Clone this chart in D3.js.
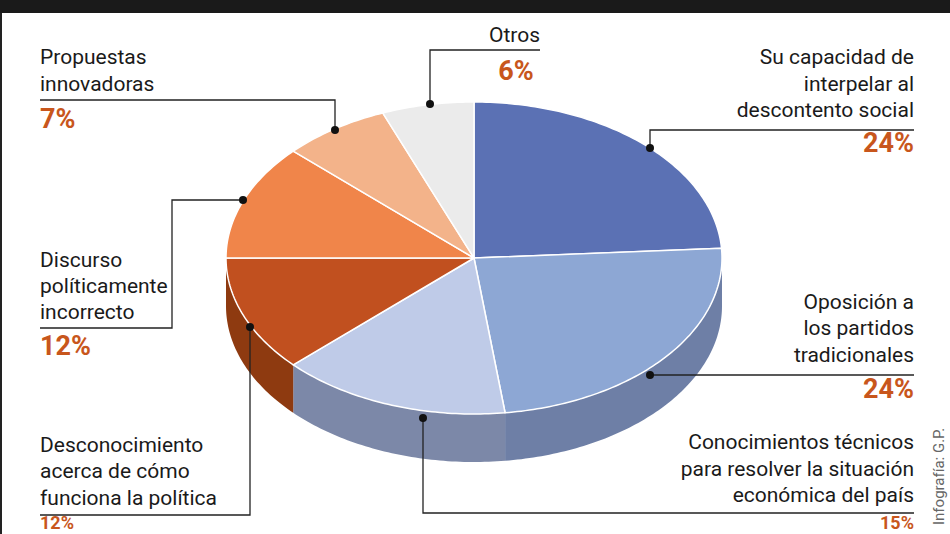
<!DOCTYPE html>
<html><head><meta charset="utf-8">
<script src="https://cdn.jsdelivr.net/npm/d3@7"></script>
<style>body{margin:0;background:#fff}svg{display:block}
text{font-family:"Liberation Sans Narrow","Roboto","DejaVu Sans Condensed",sans-serif}</style>
</head><body><svg id="c" width="950" height="534"></svg>
<script>
const categories=["Su capacidad de interpelar al descontento social","Oposición a los partidos tradicionales","Conocimientos técnicos para resolver la situación económica del país","Desconocimiento acerca de cómo funciona la política","Discurso políticamente incorrecto","Propuestas innovadoras","Otros"];
const values=[24,24,15,12,12,7,6];
const topColors=["#5B71B4","#8DA7D4","#BFCBE8","#C1501F","#F0854A","#F3B38A","#EBEBEB"];
const sideColors=["#56658E","#6E7FA6","#7C88A8","#8E3A10","#B05A2A","#B58060","#AAAAAA"];
const labelLines=[["Su capacidad de","interpelar al","descontento social"],["Oposición a","los partidos","tradicionales"],["Conocimientos técnicos","para resolver la situación","económica del país"],["Desconocimiento","acerca de cómo","funciona la política"],["Discurso","políticamente","incorrecto"],["Propuestas","innovadoras"],["Otros"]];

const svg=d3.select("#c");
const cx=474,cy=258,rx=248,ry=156,depth=48;
svg.append("rect").attr("width",950).attr("height",534).attr("fill","#fff");
svg.append("rect").attr("x",0).attr("y",0).attr("width",950).attr("height",13).attr("fill","#1a1a1a");
svg.append("line").attr("x1",1).attr("x2",1).attr("y1",13).attr("y2",534).attr("stroke","#222").attr("stroke-width",2);

const pie=d3.pie().sort(null).value(d=>d)(values);
const pt=(t,dy=0)=>[cx+rx*Math.sin(t),cy-ry*Math.cos(t)+dy];
function arcPts(a0,a1,dy=0){const n=Math.max(4,Math.ceil((a1-a0)*60));return d3.range(n+1).map(i=>pt(a0+(a1-a0)*i/n,dy));}
const line=d3.line();
pie.forEach((p,i)=>{
  const a0=Math.max(p.startAngle,Math.PI/2),a1=Math.min(p.endAngle,3*Math.PI/2);
  if(a1<=a0)return;
  const top=arcPts(a0,a1),bot=arcPts(a0,a1,depth).reverse();
  svg.append("path").attr("d",line(top.concat(bot))+"Z").attr("fill",sideColors[i]);
});
pie.forEach((p,i)=>{
  const pts=[[cx,cy]].concat(arcPts(p.startAngle,p.endAngle));
  svg.append("path").attr("d",line(pts)+"Z").attr("fill",topColors[i]).attr("stroke","#fff").attr("stroke-width",1.5).attr("stroke-linejoin","round");
});

const cfg=[
 {x:914,anchor:"end",y:[57,84,110],py:152,lead:[[650,148],[650,130],[914,130]]},
 {x:914,anchor:"end",y:[302,328,355],py:398,lead:[[650,375],[914,375]]},
 {x:914,anchor:"end",y:[442,469,495],py:529,lead:[[423,418],[423,513],[914,513]]},
 {x:40,anchor:"start",y:[445,471,498],py:529,lead:[[250,327],[250,515],[40,515]]},
 {x:40,anchor:"start",y:[260,286,312],py:355,lead:[[243,200],[172,200],[172,328],[40,328]]},
 {x:40,anchor:"start",y:[57,84],py:128,lead:[[335,130],[335,100],[40,100]]},
 {x:540,anchor:"end",y:[35],py:80,lead:[[430,104],[430,50],[540,50]]}
];
cfg.forEach((c,i)=>{
  svg.append("path").attr("d",d3.line()(c.lead)).attr("fill","none").attr("stroke","#222").attr("stroke-width",1.3);
  svg.append("circle").attr("cx",c.lead[0][0]).attr("cy",c.lead[0][1]).attr("r",4).attr("fill","#111");
  labelLines[i].forEach((t,j)=>svg.append("text").attr("x",c.x).attr("y",c.y[j]+7).attr("text-anchor",c.anchor)
    .attr("font-size",21).attr("fill","#1a1a1a").text(t));
  svg.append("text").attr("x",i==6?516:c.x).attr("y",c.py).attr("text-anchor",i==6?"middle":c.anchor)
    .attr("font-size",i==2||i==3?18:27).attr("font-weight","bold").attr("fill","#C8561C").text(values[i]+"%");
});
svg.append("text").attr("transform","translate(944,525) rotate(-90)").attr("font-size",15)
  .attr("font-family","DejaVu Sans").attr("fill","#666").text("Infografía: G.P.");
</script></body></html>
